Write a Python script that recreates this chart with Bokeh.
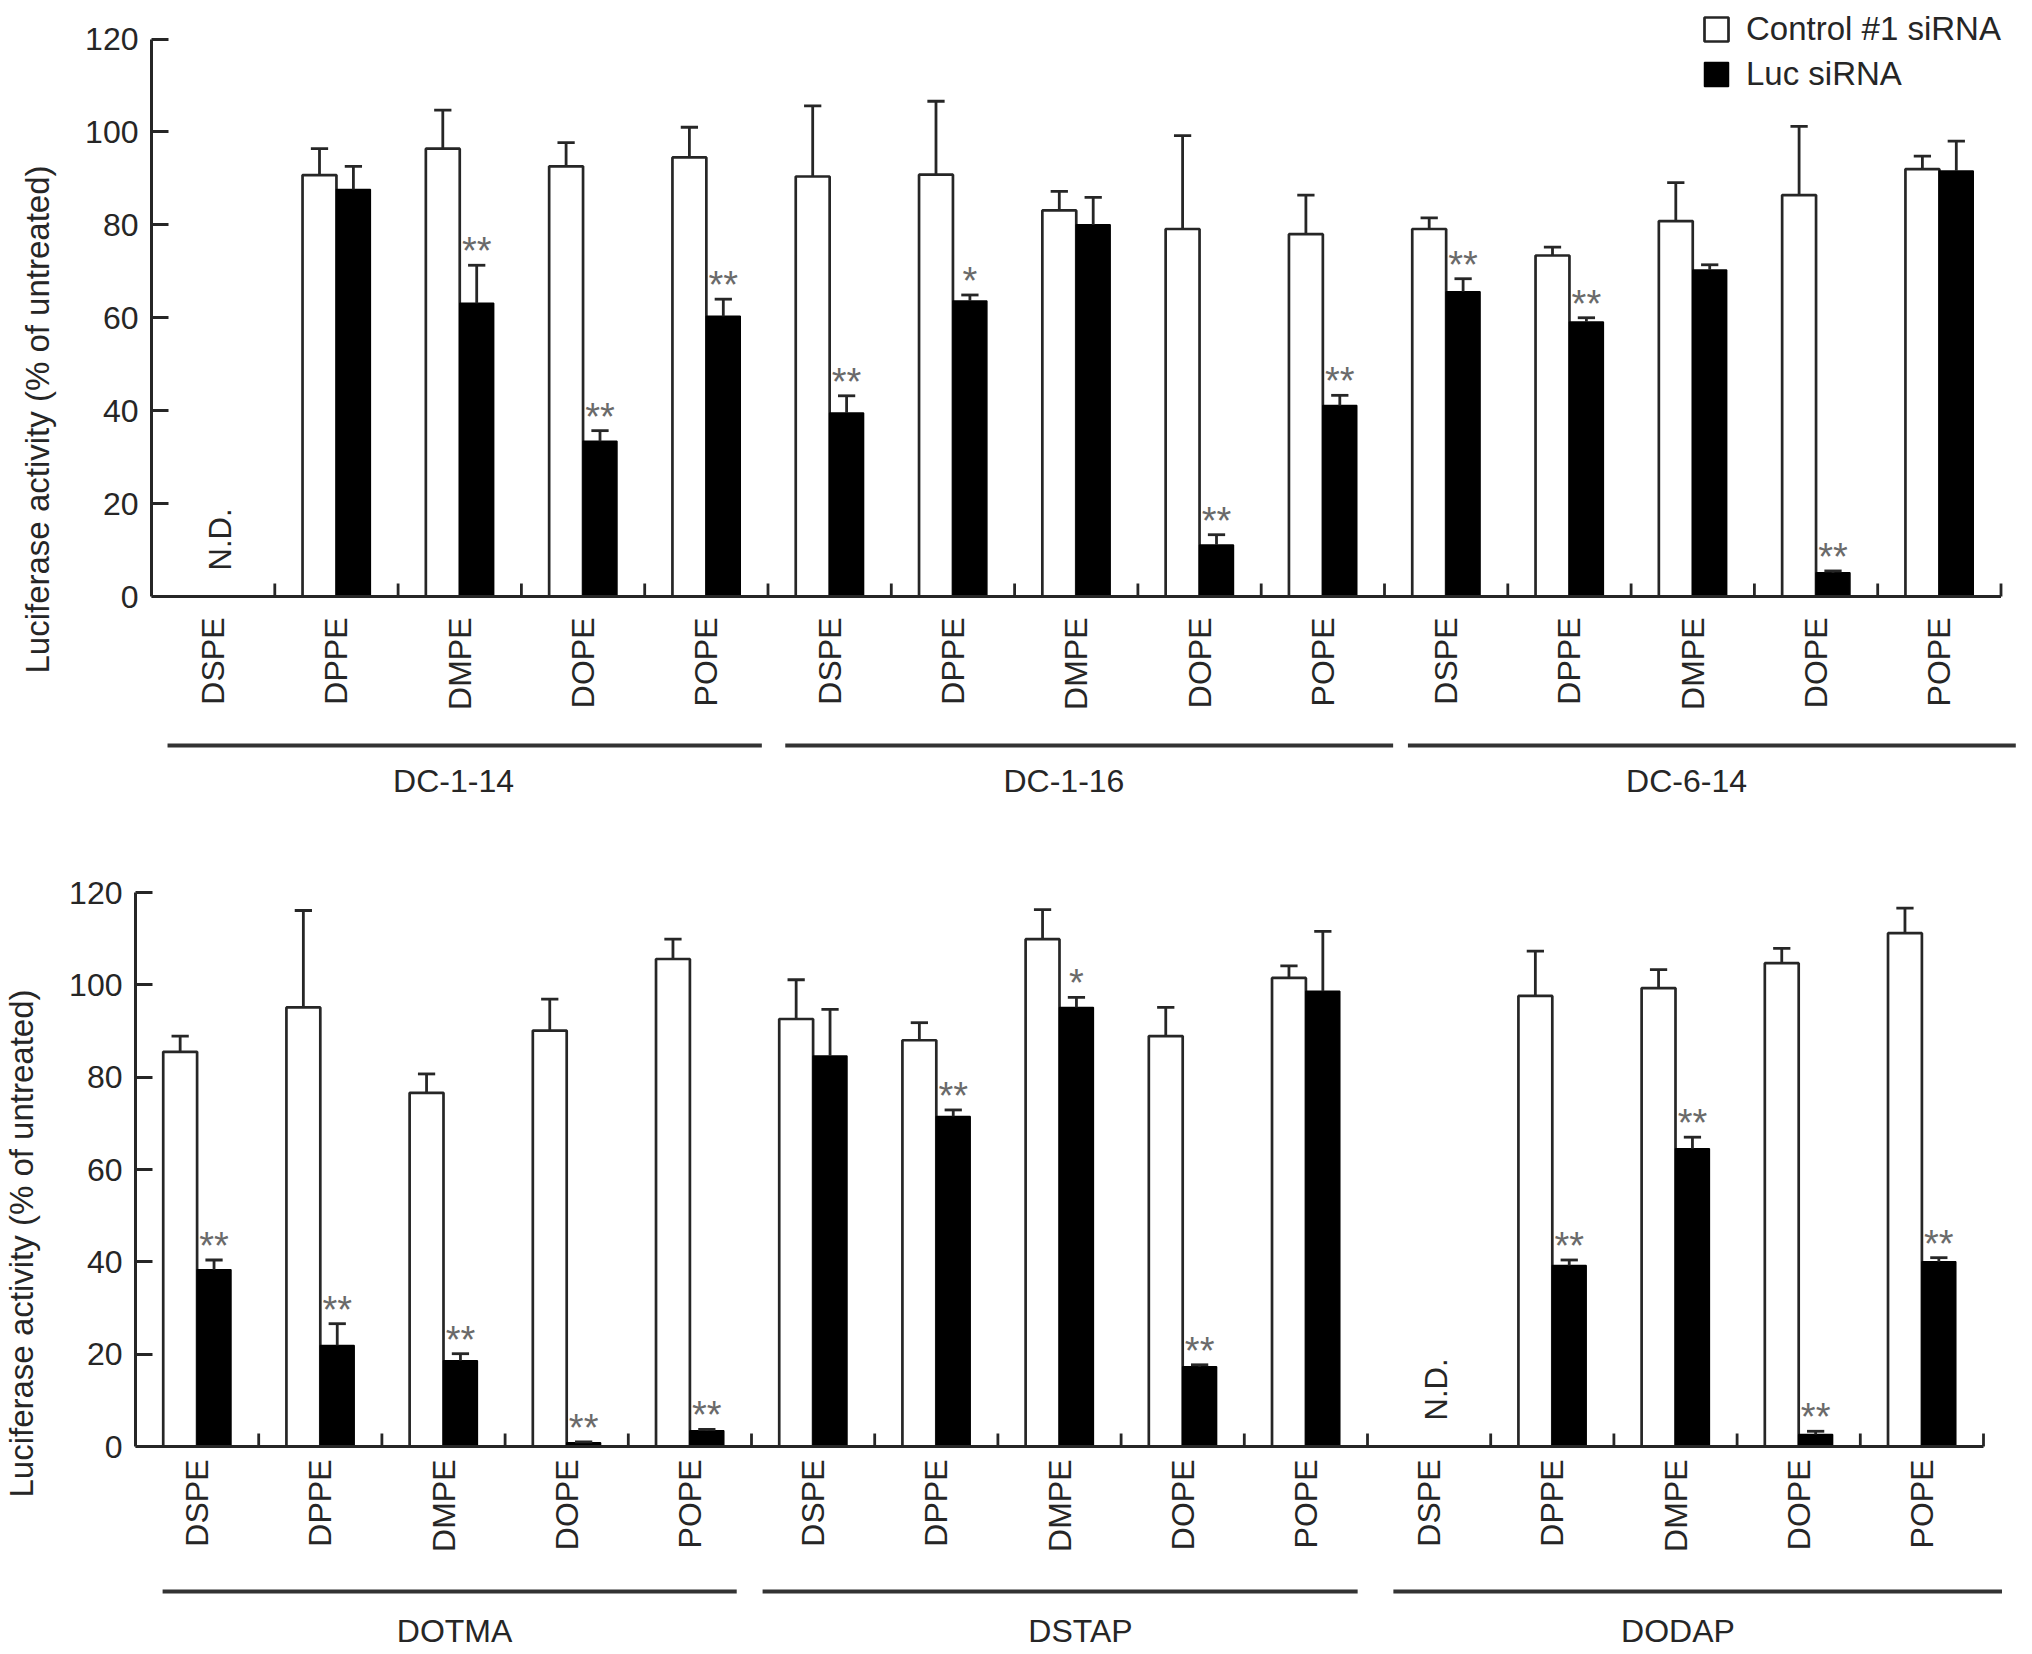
import math
from bokeh.plotting import figure
from bokeh.layouts import column
from bokeh.models import FixedTicker, Range1d, Legend, LegendItem
from bokeh.core.properties import value
from bokeh.embed import file_html
from bokeh.resources import INLINE

# ---------------- data ----------------
lipids = ["DSPE", "DPPE", "DMPE", "DOPE", "POPE"]
top_groups = ["DC-1-14", "DC-1-16", "DC-6-14"]
bottom_groups = ["DOTMA", "DSTAP", "DODAP"]
y_ticks = [0, 20, 40, 60, 80, 100, 120]
series_names = ["Control #1 siRNA", "Luc siRNA"]
ND = float("nan")   # not determined

top_control = [ND, 90.7, 96.4, 92.6, 94.5, 90.4, 90.8, 83.1, 79.1, 78.0, 79.1, 73.4, 80.8, 86.4, 92.0]
top_control_err = [ND, 5.7, 8.3, 5.1, 6.5, 15.2, 15.8, 4.1, 20.1, 8.4, 2.4, 1.8, 8.3, 14.8, 2.8]
top_luc = [ND, 87.6, 63.1, 33.4, 60.3, 39.5, 63.6, 80.0, 11.1, 41.1, 65.6, 59.1, 70.3, 5.1, 91.6]
top_luc_err = [ND, 5.0, 8.2, 2.3, 3.7, 3.7, 1.3, 5.9, 2.2, 2.2, 2.8, 0.9, 1.1, 0.4, 6.4]
top_sig = ["", "", "**", "**", "**", "**", "*", "", "**", "**", "**", "**", "", "**", ""]

bottom_control = [85.5, 95.1, 76.6, 90.1, 105.6, 92.6, 88.0, 109.9, 88.9, 101.5, ND, 97.6, 99.3, 104.7, 111.2]
bottom_control_err = [3.4, 21.0, 4.1, 6.8, 4.3, 8.5, 3.8, 6.4, 6.2, 2.6, ND, 9.7, 4.0, 3.2, 5.4]
bottom_luc = [38.3, 21.9, 18.6, 0.8, 3.4, 84.6, 71.5, 95.1, 17.3, 98.6, ND, 39.2, 64.5, 2.6, 40.0]
bottom_luc_err = [2.1, 4.7, 1.5, 0.2, 0.3, 10.1, 1.4, 2.2, 0.4, 13.0, ND, 1.2, 2.5, 0.7, 0.9]
bottom_sig = ["**", "**", "**", "**", "**", "", "**", "*", "**", "", "", "**", "**", "**", "**"]

# ---------------- style / layout (positions in category units) ----------------
FONT = "Liberation Sans"
INK = "#262626"
STAR = "#6a6a6a"
BAR_W = 0.275
CAP = 0.07
FIG_W = 2028
PANEL_LEFT = 158      # width reserved for the y axis inside each figure

top_bracket_start = [0.13, 5.14, 10.19]
top_bracket_end = [4.95, 10.07, 15.12]
top_name_x = [2.45, 7.40, 12.45]
bottom_bracket_start = [0.22, 5.09, 10.21]
bottom_bracket_end = [4.88, 9.92, 15.15]
bottom_name_x = [2.59, 7.67, 12.52]


def isnan(v):
    return isinstance(v, float) and math.isnan(v)


def make_panel(groups, control, control_err, luc, luc_err, sig,
               height, frame_left, y120_px, y0_px, unit_px,
               line_px, label_px, cat_offset, br_start, br_end, name_x,
               legend=False):
    n = len(groups) * len(lipids)
    ppu = (y0_px - y120_px) / 120.0          # pixels per y unit
    y_max = 120 + y120_px / ppu
    y_min = -(height - y0_px) / ppu
    shift = frame_left - PANEL_LEFT          # visual shift of the figure
    x_max = (FIG_W - PANEL_LEFT) / unit_px

    p = figure(width=FIG_W, height=height, output_backend="svg",
               toolbar_location=None, x_range=Range1d(0, x_max),
               y_range=Range1d(y_min, y_max), min_border_left=PANEL_LEFT,
               min_border_top=0, min_border_bottom=0, min_border_right=0,
               styles={"transform": "translateX(%dpx)" % shift})
    p.outline_line_color = None
    p.xgrid.visible = False
    p.ygrid.visible = False
    p.xaxis.visible = False
    p.background_fill_color = "white"
    p.border_fill_color = "white"

    wx, wt, bx, bt = [], [], [], []
    ex0, ey0, ey1 = [], [], []
    cx0, cx1, cy = [], [], []
    sx, sy, st = [], [], []
    ndx = []
    for i in range(n):
        c = i + 0.5
        if isnan(control[i]):
            ndx.append(c)
            continue
        xw, xb = c - BAR_W / 2, c + BAR_W / 2
        wx.append(xw); wt.append(control[i])
        bx.append(xb); bt.append(luc[i])
        for xx, v, e in ((xw, control[i], control_err[i]), (xb, luc[i], luc_err[i])):
            ex0.append(xx); ey0.append(v); ey1.append(v + e)
            cx0.append(xx - CAP); cx1.append(xx + CAP); cy.append(v + e)
        if sig[i]:
            sx.append(xb); sy.append(luc[i] + luc_err[i]); st.append(sig[i])

    rw = p.vbar(x=wx, top=wt, bottom=0, width=BAR_W, fill_color="white",
                line_color=INK, line_width=2.7)
    rb = p.vbar(x=bx, top=bt, bottom=0, width=BAR_W, fill_color="black",
                line_color="black", line_width=1.5)
    p.segment(x0=ex0, y0=ey0, x1=ex0, y1=ey1, line_color=INK, line_width=2.8)
    p.segment(x0=cx0, y0=cy, x1=cx1, y1=cy, line_color=INK, line_width=2.8)
    p.text(x=sx, y=sy, text=st, text_font=value(FONT), text_font_size="38px",
           text_color=STAR, text_align="center", text_baseline="alphabetic",
           y_offset=-14)
    p.text(x=[v + 0.06 for v in ndx], y=[0] * len(ndx), text=["N.D."] * len(ndx),
           text_font=value(FONT), text_font_size="31px", text_color=INK,
           angle=math.pi / 2, text_align="left", text_baseline="middle",
           y_offset=-26)

    # y axis (library axis, limited to 0..120)
    yax = p.yaxis[0]
    yax.bounds = (0, 120)
    yax.ticker = FixedTicker(ticks=y_ticks, minor_ticks=[])
    yax.axis_label = "Luciferase activity (% of untreated)"
    yax.axis_label_text_font = FONT
    yax.axis_label_text_font_size = "33px"
    yax.axis_label_text_font_style = "normal"
    yax.axis_label_text_color = INK
    yax.axis_label_standoff = 26
    yax.major_label_text_font = FONT
    yax.major_label_text_font_size = "32px"
    yax.major_label_text_color = INK
    yax.major_label_standoff = 13
    yax.major_tick_in = 17
    yax.major_tick_out = 0
    yax.major_tick_line_width = 2.8
    yax.major_tick_line_color = INK
    yax.axis_line_width = 3
    yax.axis_line_color = INK

    # category axis drawn at y = 0
    p.segment(x0=[0], y0=[0], x1=[n], y1=[0], line_color=INK, line_width=3)
    bounds = list(range(1, n + 1))
    p.segment(x0=bounds, y0=[0] * n, x1=bounds, y1=[13 / ppu] * n,
              line_color=INK, line_width=2.8)
    centers = [i + 0.5 for i in range(n)]
    p.text(x=centers, y=[0] * n, text=[lipids[i % len(lipids)] for i in range(n)],
           text_font=value(FONT), text_font_size="32px", text_color=INK,
           angle=math.pi / 2, text_align="right", text_baseline="middle",
           y_offset=cat_offset)

    # group brackets and names
    ng = len(groups)
    p.segment(x0=br_start, y0=[-line_px / ppu] * ng,
              x1=br_end, y1=[-line_px / ppu] * ng,
              line_color="#333333", line_width=4)
    p.text(x=name_x, y=[-label_px / ppu] * ng,
           text=groups, text_font=value(FONT), text_font_size="32px",
           text_color=INK, text_align="center", text_baseline="middle")

    if legend:
        lg = Legend(items=[LegendItem(label=series_names[0], renderers=[rw]),
                           LegendItem(label=series_names[1], renderers=[rb])],
                    location=(1550, height - 93), orientation="vertical",
                    glyph_width=30, glyph_height=30, label_height=30,
                    label_standoff=15, spacing=7, padding=0, margin=0,
                    label_text_font=FONT, label_text_font_size="33px",
                    label_text_color=INK, label_text_baseline="middle",
                    border_line_color=None, background_fill_alpha=0)
        p.add_layout(lg, "center")
    return p


p1 = make_panel(top_groups, top_control, top_control_err, top_luc, top_luc_err,
                top_sig, height=838, frame_left=151, y120_px=38.5, y0_px=596,
                unit_px=123.3, line_px=149, label_px=184, cat_offset=21,
                br_start=top_bracket_start, br_end=top_bracket_end,
                name_x=top_name_x, legend=True)
p2 = make_panel(bottom_groups, bottom_control, bottom_control_err, bottom_luc,
                bottom_luc_err, bottom_sig, height=810, frame_left=135,
                y120_px=54, y0_px=608, unit_px=123.2, line_px=145,
                label_px=184, cat_offset=13,
                br_start=bottom_bracket_start, br_end=bottom_bracket_end,
                name_x=bottom_name_x)

layout = column(p1, p2, spacing=0)
open("out.html", "w").write(file_html(layout, INLINE))
